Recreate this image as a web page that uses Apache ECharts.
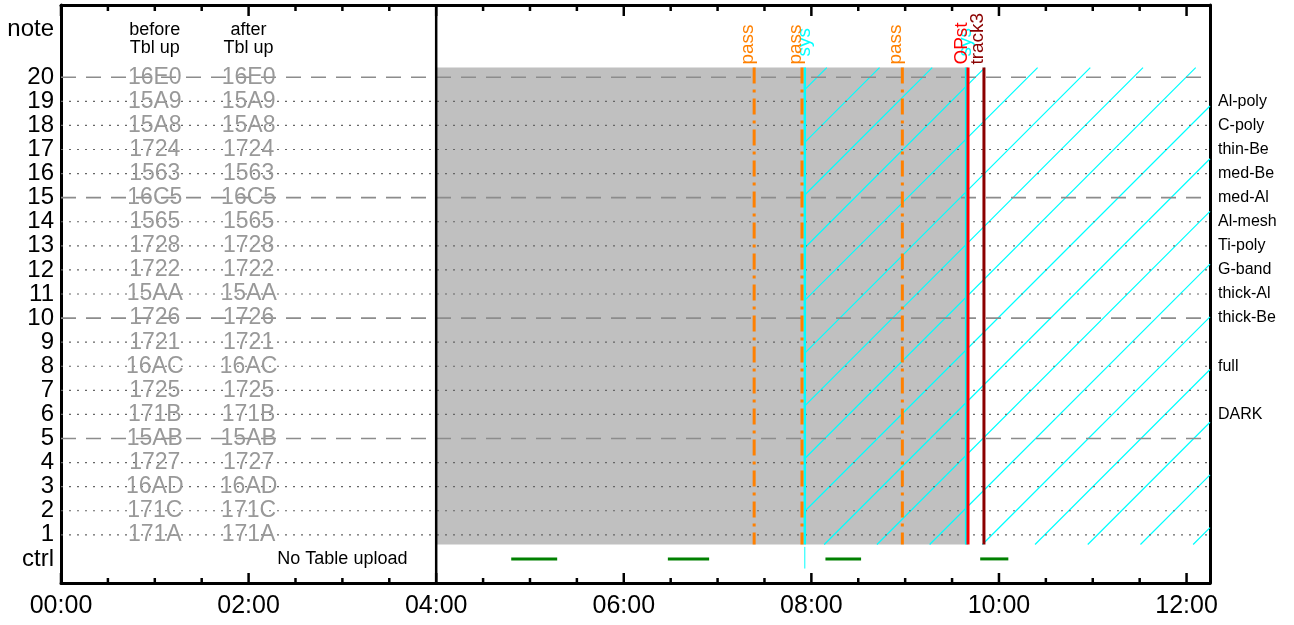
<!DOCTYPE html>
<html><head><meta charset="utf-8">
<script src="https://cdn.jsdelivr.net/npm/echarts@6/dist/echarts.min.js"></script>
<style>html,body{margin:0;padding:0;background:#fff}#c{width:1294px;height:625px}</style>
</head><body><div id="c"></div>
<script>
// ---------- data ----------
const xMin = 0, xMax = 12.25;
const xLabelHours = [0, 2, 4, 6, 8, 10, 12];
const xMinorTickHours = [0.5,1,1.5,2.5,3,3.5,4.5,5,5.5,6.5,7,7.5,8.5,9,9.5,10.5,11,11.5];
const yMin = -1, yMax = 23;
const yLabelValues = [0,1,2,3,4,5,6,7,8,9,10,11,12,13,14,15,16,17,18,19,20,22];
const yLabelTexts = ['ctrl','1','2','3','4','5','6','7','8','9','10','11','12','13','14','15','16','17','18','19','20','note'];
const filterRows = [19,18,17,16,15,14,13,12,11,10,8,6];
const filterNames = ['Al-poly','C-poly','thin-Be','med-Be','med-Al','Al-mesh','Ti-poly','G-band','thick-Al','thick-Be','full','DARK'];
const dashedRows = [5,10,15,20];
const dottedRows = [1,2,3,4,6,7,8,9,11,12,13,14,16,17,18,19];
const tableRows = [20,19,18,17,16,15,14,13,12,11,10,9,8,7,6,5,4,3,2,1];
const tblBefore = ['16E0','15A9','15A8','1724','1563','16C5','1565','1728','1722','15AA','1726','1721','16AC','1725','171B','15AB','1727','16AD','171C','171A'];
const tblAfter  = ['16E0','15A9','15A8','1724','1563','16C5','1565','1728','1722','15AA','1726','1721','16AC','1725','171B','15AB','1727','16AD','171C','171A'];
const tableColumnHours = [1.0, 2.0];
const tableHeaders = ['before\nTbl up', 'after\nTbl up'];
const headerRow = 21.6;
const noUploadText = 'No Table upload';
const noUploadHour = 3.0;
const separatorHour = 4.0;
const grayBlock = [4.0, 9.67, 0.6, 20.4];      // x0, x1, y0, y1
const hatchBlock = [7.93, 12.25, 0.6, 20.4];
const markSpan = [0.6, 20.4];
const passTimes = [7.39, 7.90, 8.97];
const sysTimes = [7.93, 9.65];
const opStartTimes = [9.67];
const track3Times = [9.84];
const ctrlCyanTimes = [7.93];
const ctrlCyanSpan = [-0.4, 0.5];
const uploadSegments = [[4.80, 5.29], [6.47, 6.91], [8.15, 8.53], [9.80, 10.10]];

// ---------- styles ----------
const FONT = '"Liberation Sans", Arial, sans-serif';
const hatchStep = 52.7, hatchPhase = 22;

function pad(h){ return (h < 10 ? '0' : '') + h + ':00'; }

function vlineSeries(times, span, color, width, dash, label, labelColor, labelDx, labelDy, z){
  return {
    type: 'custom', z: z, silent: true, clip: false,
    data: times.map(t => [t]),
    renderItem: (params, api) => {
      const t = api.value(0);
      const top = api.coord([t, span[1]]), bot = api.coord([t, span[0]]);
      const children = [{
        type: 'line',
        shape: {x1: top[0], y1: top[1], x2: bot[0], y2: bot[1]},
        style: {stroke: color, lineWidth: width, lineDash: dash || null, fill: null}
      }];
      if (label) {
        children.push({
          type: 'text', x: top[0] + labelDx, y: top[1] - 3 - labelDy, rotation: Math.PI / 2,
          style: {text: label, x: 0, y: 0, align: 'left', verticalAlign: 'bottom',
                  fill: labelColor, font: '19px ' + FONT}
        });
      }
      return {type: 'group', children};
    }
  };
}

function hlineSeries(rows, color, width, dash, z){
  return {
    type: 'custom', z: z, silent: true,
    data: rows.map(r => [r]),
    renderItem: (params, api) => {
      const y = api.value(0);
      const a = api.coord([xMin, y]), b = api.coord([xMax, y]);
      return {type: 'line', shape: {x1: a[0], y1: a[1], x2: b[0], y2: b[1]},
              style: {stroke: color, lineWidth: width, lineDash: dash, fill: null}};
    }
  };
}

// frame ticks (inward) on bottom and top edges, placed through the x scale
function tickSeries(hours, lenBottom, lenTop){
  return {
    type: 'custom', z: 8, silent: true, clip: false,
    data: hours.map(h => [h]),
    renderItem: (params, api) => {
      const h = api.value(0);
      const b = api.coord([h, yMin]), t = api.coord([h, yMax]);
      return {type: 'group', children: [
        {type: 'line', shape: {x1: b[0], y1: b[1], x2: b[0], y2: b[1] - lenBottom}, style: {stroke: '#000', lineWidth: 2.5, fill: null}},
        {type: 'line', shape: {x1: t[0], y1: t[1], x2: t[0], y2: t[1] + lenTop}, style: {stroke: '#000', lineWidth: 2.5, fill: null}}
      ]};
    }
  };
}

const series = [];
series.push({
  type: 'custom', z: 1, silent: true, data: [grayBlock],
  renderItem: (params, api) => {
    const p0 = api.coord([api.value(0), api.value(3)]);
    const p1 = api.coord([api.value(1), api.value(2)]);
    return {type: 'rect', shape: {x: p0[0], y: p0[1], width: p1[0] - p0[0], height: p1[1] - p0[1]},
            style: {fill: '#c0c0c0', stroke: null}};
  }
});
series.push({
  type: 'custom', z: 2, silent: true, data: [hatchBlock],
  renderItem: (params, api) => {
    const p0 = api.coord([api.value(0), api.value(3)]);
    const p1 = api.coord([api.value(1), api.value(2)]);
    const L = p0[0], T = p0[1], R = p1[0], B = p1[1];
    let d = '';
    for (let c = L + T + hatchPhase - hatchStep; c < R + B; c += hatchStep) {
      const ya = Math.max(T, c - R), yb = Math.min(B, c - L);
      if (yb > ya) d += 'M' + (c - ya).toFixed(2) + ' ' + ya.toFixed(2) + 'L' + (c - yb).toFixed(2) + ' ' + yb.toFixed(2);
    }
    return {type: 'path', shape: {pathData: d}, style: {stroke: '#00ffff', lineWidth: 1.2, fill: null}};
  }
});
series.push(hlineSeries(dottedRows, '#666666', 1.2, [2, 6], 3));
series.push(hlineSeries(dashedRows, '#8c8c8c', 1.6, [15, 10], 3));
const tableData = [];
tableRows.forEach((r, i) => {
  tableData.push([tableColumnHours[0], r, tblBefore[i]]);
  tableData.push([tableColumnHours[1], r, tblAfter[i]]);
});
series.push({
  type: 'custom', z: 4, silent: true, data: tableData,
  renderItem: (params, api) => {
    const p = api.coord([api.value(0), api.value(1)]);
    return {type: 'text', x: p[0], y: p[1],
            style: {text: tableData[params.dataIndex][2], align: 'center', verticalAlign: 'middle',
                    fill: '#999999', font: '23px ' + FONT}};
  }
});
const textData = tableHeaders.map((h, i) => [tableColumnHours[i], headerRow, h, 18]);
textData.push([noUploadHour, 0, noUploadText, 18]);
series.push({
  type: 'custom', z: 4, silent: true, data: textData,
  renderItem: (params, api) => {
    const p = api.coord([api.value(0), api.value(1)]);
    const d = textData[params.dataIndex];
    return {type: 'text', x: p[0], y: p[1],
            style: {text: d[2], align: 'center', verticalAlign: 'middle', lineHeight: 18,
                    fill: '#000', font: d[3] + 'px ' + FONT}};
  }
});
series.push({
  type: 'custom', z: 5, silent: true, data: uploadSegments,
  renderItem: (params, api) => {
    const a = api.coord([api.value(0), 0]), b = api.coord([api.value(1), 0]);
    return {type: 'line', shape: {x1: a[0], y1: a[1], x2: b[0], y2: b[1]},
            style: {stroke: '#008000', lineWidth: 3, fill: null}};
  }
});
series.push(vlineSeries([separatorHour], [yMin, yMax], '#000', 2.5, null, null, null, 0, 0, 6));
series.push(vlineSeries(sysTimes, markSpan, '#00ffff', 2.5, null, 'sys', '#00ffff', 9, 8, 7));
series.push(vlineSeries(ctrlCyanTimes, ctrlCyanSpan, '#00ffff', 1, null, null, null, 0, 0, 7));
series.push(vlineSeries(passTimes, markSpan, '#ff8000', 3, [16, 6, 3, 6], 'pass', '#ff8000', 3, 0, 8));
series.push(vlineSeries(opStartTimes, markSpan, '#ff0000', 3, null, 'OPst', '#ff0000', 3, 0, 8));
series.push(vlineSeries(track3Times, markSpan, '#8b0000', 3, null, 'track3', '#8b0000', 3, 0, 8));
series.push(tickSeries(xLabelHours, 10, 11));
series.push(tickSeries(xMinorTickHours, 5, 6));

const xLabelFmt = v => xLabelHours.indexOf(v) >= 0 ? pad(v) : '';
function xAx(pos, labels){
  return {
    type: 'value', position: pos, min: xMin, max: xMax, interval: 2,
    axisLine: {show: true, onZero: false, lineStyle: {color: '#000', width: 3}},
    axisTick: {show: false},
    axisLabel: {show: labels, formatter: xLabelFmt, fontSize: 25, color: '#000', fontFamily: FONT, margin: 11},
    splitLine: {show: false}
  };
}
function yAx(pos, fmt, size, margin){
  return {
    type: 'value', position: pos, min: yMin, max: yMax, interval: 1,
    axisLine: {show: true, onZero: false, lineStyle: {color: '#000', width: 3}}, axisTick: {show: false}, splitLine: {show: false},
    axisLabel: {formatter: fmt, fontSize: size, color: '#000', fontFamily: FONT, margin: margin}
  };
}

const option = {
  animation: false,
  backgroundColor: '#fff',
  grid: {left: 61, right: 84, top: 5, bottom: 42, show: false},
  xAxis: [xAx('bottom', true), xAx('top', false)],
  yAxis: [
    yAx('left', v => { const i = yLabelValues.indexOf(v); return i >= 0 ? yLabelTexts[i] : ''; }, 24, 7),
    yAx('right', v => { const i = filterRows.indexOf(v); return i >= 0 ? filterNames[i] : ''; }, 16, 8)
  ],
  series: series
};
const chart = echarts.init(document.getElementById('c'));
chart.setOption(option);
</script></body></html>
